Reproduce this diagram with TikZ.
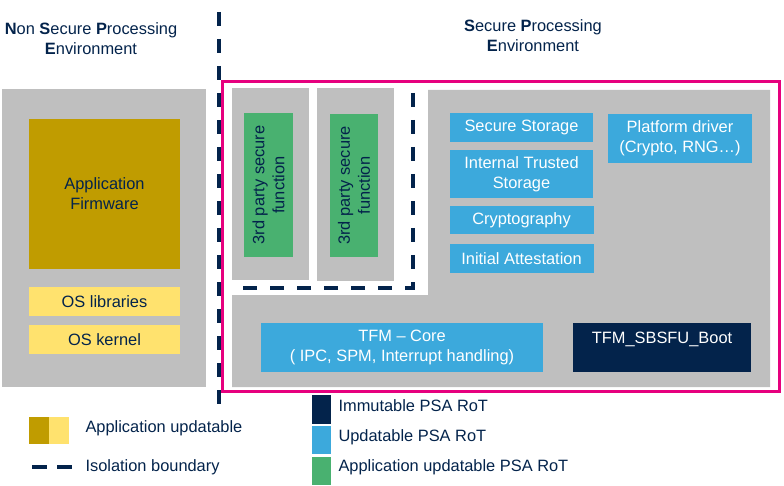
\documentclass[tikz,border=0pt]{standalone}
\usepackage{fontspec}
\setmainfont{Liberation Sans}
\usepackage{xcolor}
\usetikzlibrary{positioning}

\definecolor{stnavy}{HTML}{03234B}
\definecolor{stblue}{HTML}{3CA9DC}
\definecolor{stgreen}{HTML}{49B170}
\definecolor{stgold}{HTML}{C09C00}
\definecolor{styellow}{HTML}{FFE26E}
\definecolor{stgray}{HTML}{BFBFBF}
\definecolor{stpink}{HTML}{E6007E}

\begin{document}
\begin{tikzpicture}[
    x=1pt, y=-1pt,
    font=\fontsize{16.4}{20}\selectfont,
    node distance=8pt,
    box/.style={rectangle, inner sep=0pt, align=center, text=stnavy,
                minimum width=151pt, minimum height=29pt, fill=#1},
    wbox/.style={box=#1, text=white},
    zone/.style={rectangle, inner sep=0pt, fill=stgray},
    keybox/.style={box=#1, minimum width=19pt, minimum height=28pt},
    lbl/.style={anchor=west, text=stnavy},
    head/.style={align=center, text=stnavy},
    isoline/.style={draw=stnavy, line width=4pt, dash pattern=on 14pt off 13pt}
]
\useasboundingbox (0,0) rectangle (784,486);

% headers
\node[head] (nshead) at (91,39)
    {\textbf{N}on \textbf{S}ecure \textbf{P}rocessing\\\textbf{E}nvironment};
\node[head] (shead) at (533,36)
    {\textbf{S}ecure \textbf{P}rocessing\\\textbf{E}nvironment};

% non secure side
\node[zone, minimum width=204pt, minimum height=298pt] (nszone) at (104,238) {};
\node[box=stgold, minimum height=150pt] (appfw) at (104.5,194)
    {Application\\Firmware};
\node[box=styellow, below=18pt of appfw] (oslib)  {OS libraries};
\node[box=styellow, below=8pt of oslib]  (oskern) {OS kernel};

% secure side
\fill[stgray] (428,90) -- (770,90) -- (770,387) -- (232,387)
    -- (232,295) -- (428,295) -- cycle;
\node[zone, minimum width=77pt, minimum height=192pt] (tpzonea) at (270.5,184) {};
\node[zone, minimum width=77pt, minimum height=193pt] (tpzoneb) at (355.5,184.5) {};
\node[box=stgreen, rotate=90, minimum width=144pt, minimum height=49pt]
    (tpfa) at (268.5,185) {3rd party secure\\function};
\node[box=stgreen, rotate=90, minimum width=143pt, minimum height=48pt]
    (tpfb) at (354,185.5) {3rd party secure\\function};

\node[wbox=stblue, minimum width=143pt] (sstore) at (521.5,127.5) {Secure Storage};
\node[wbox=stblue, minimum width=143pt, minimum height=48pt, below=8pt of sstore]
    (its) {Internal Trusted\\Storage};
\node[wbox=stblue, minimum width=144pt, minimum height=28pt, below=7pt of its]
    (crypto) {Cryptography};
\node[wbox=stblue, minimum width=144pt, below=10pt of crypto]
    (attest) {Initial Attestation};
\node[wbox=stblue, minimum width=144pt, minimum height=49pt] (pfdrv) at (680,138.5)
    {Platform driver\\(Crypto, RNG\ldots)};

\node[wbox=stblue, minimum width=282pt, minimum height=49pt] (core) at (402,347.5)
    {TFM -- Core\\( IPC, SPM, Interrupt handling)};
\node[wbox=stnavy, minimum width=178pt, minimum height=49pt] (boot) at (662,347.5)
    {TFM\_SBSFU\_Boot\\\mbox{}};

\draw[stpink, line width=3pt] (222.5,82) rectangle (779,391);

% isolation boundaries
\draw[isoline] (218.5,12) -- (218.5,416);
\draw[isoline] (413,93) -- (413,288) -- (237,288);

% legend
\node[box=stgold, minimum width=20pt, minimum height=27pt] (keygold) at (39,430) {};
\node[box=styellow, minimum width=20pt, minimum height=27pt, right=0pt of keygold]
    (keyyellow) {};
\node[lbl] (keyapp) at (82,428) {Application updatable};
\draw[isoline, dash pattern=on 15pt off 10pt] (32,467) -- (72,467);
\node[lbl] (keyiso) at (82,467) {Isolation boundary};

\node[keybox=stnavy, minimum height=29pt] (keyimm) at (321,409.5) {};
\node[keybox=stblue, below=2pt of keyimm]  (keyupd) {};
\node[keybox=stgreen, below=2pt of keyupd] (keyaru) {};
\node[lbl] (keyimmtxt) at (335,406) {Immutable PSA RoT};
\node[lbl] (keyupdtxt) at (335,437) {Updatable PSA RoT};
\node[lbl] (keyarutxt) at (335,467) {Application updatable PSA RoT};
\end{tikzpicture}
\end{document}
